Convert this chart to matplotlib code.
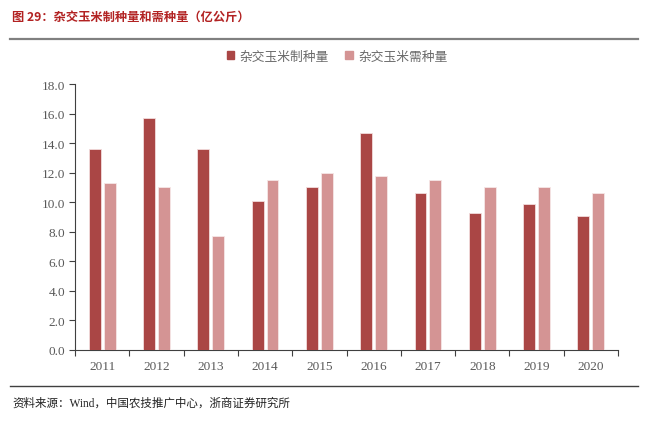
import matplotlib
matplotlib.use("Agg")
import matplotlib.pyplot as plt
from matplotlib.lines import Line2D
from matplotlib.patches import Rectangle
import numpy as np

years = ["2011", "2012", "2013", "2014", "2015", "2016", "2017", "2018", "2019", "2020"]
production = [13.6, 15.7, 13.6, 10.1, 11.0, 14.7, 10.6, 9.3, 9.9, 9.1]
demand = [11.3, 11.0, 7.7, 11.5, 12.0, 11.8, 11.5, 11.0, 11.0, 10.6]
series_names = ["杂交玉米制种量", "杂交玉米需种量"]
yticks = [0, 2, 4, 6, 8, 10, 12, 14, 16, 18]

title = "图 29：杂交玉米制种量和需种量（亿公斤）"
source = "资料来源：Wind，中国农技推广中心，浙商证券研究所"

dark = "#AA4645"
light = "#D49494"
gray = "#595959"

cjk = ["Noto Sans CJK SC", "DejaVu Sans"]
serif = ["Liberation Serif", "Noto Sans CJK SC"]

fig = plt.figure(figsize=(6.55, 4.27), dpi=100)
ax = fig.add_axes([75/655, 1-351/427, 543/655, 266/427])

x = np.arange(len(years))
w = 0.22
off = 0.1375
ax.bar(x - off, production, width=w, color=dark, edgecolor="#F2DCDC", linewidth=0.6, label=series_names[0], zorder=3)
ax.bar(x + off, demand, width=w, color=light, edgecolor="#F6E6E6", linewidth=0.6, label=series_names[1], zorder=3)

ax.set_xlim(-0.5, len(years) - 0.5)
ax.set_ylim(0, 18)
ax.set_yticks(yticks)
ax.set_yticklabels([f"{v:.1f}" for v in yticks], family=serif, fontsize=9.5, color=gray)
ax.set_xticks(x)
ax.set_xticklabels(years, family=serif, fontsize=9.5, color=gray)
ax.tick_params(axis="x", length=0, pad=7)
ax.set_xticks(np.arange(-0.5, len(years) + 0.5, 1), minor=True)
ax.tick_params(axis="x", which="minor", length=4, direction="out", color="#404040", width=0.8)
ax.tick_params(axis="y", length=4, direction="out", color="#404040", width=0.8, pad=3)
for s in ["top", "right"]:
    ax.spines[s].set_visible(False)
for s in ["left", "bottom"]:
    ax.spines[s].set_color("#404040")
    ax.spines[s].set_linewidth(0.8)

leg = fig.legend(handles=[Rectangle((0, 0), 1, 1, color=dark), Rectangle((0, 0), 1, 1, color=light)],
                 labels=series_names, loc="center", bbox_to_anchor=(337/655, 1-57/427),
                 ncol=2, frameon=False, prop={"family": cjk, "size": 9.2},
                 handlelength=0.6, handleheight=0.6, handletextpad=0.4, columnspacing=1.3)
for t in leg.get_texts():
    t.set_color("#6a6a6a")

fig.text(12/655, 1-17/427, title, family=cjk, fontsize=8.8, fontweight="bold", color="#B22222", va="center", ha="left")
fig.add_artist(Line2D([10/655, 638/655], [1-40/427, 1-40/427], color="#808080", linewidth=1.6))
fig.add_artist(Line2D([10/655, 638/655], [1-387/427, 1-387/427], color="#404040", linewidth=1.0))
fig.text(12/655, 1-404/427, source, family=serif, fontsize=8.3, color="#222222", va="center", ha="left")

fig.savefig("out.png", dpi=100)
